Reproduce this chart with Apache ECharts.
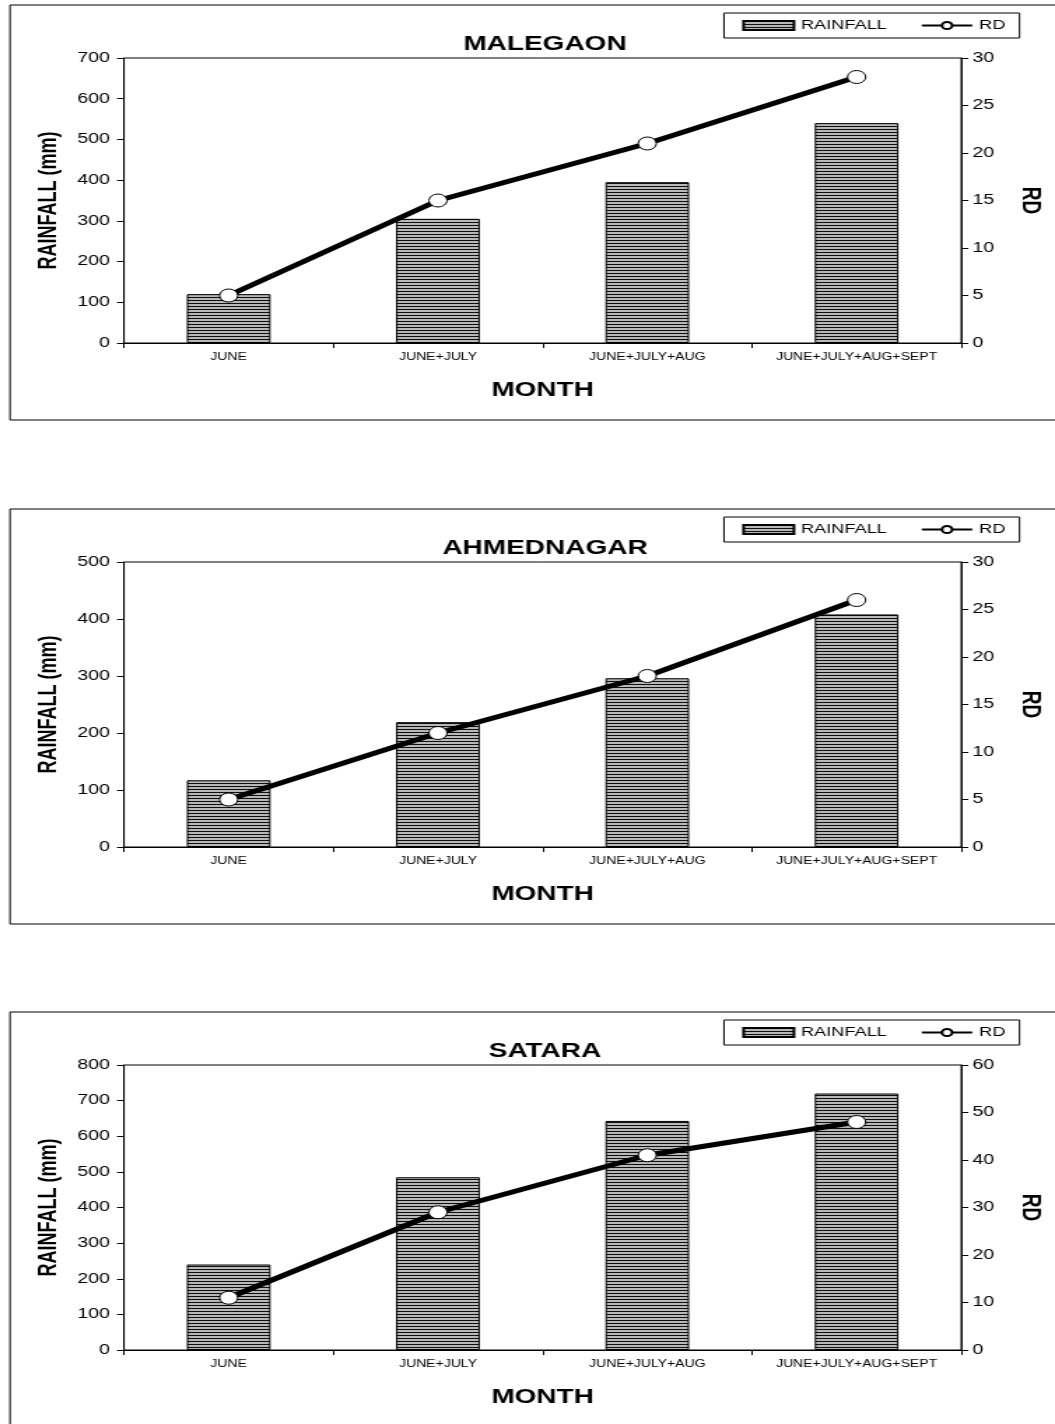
<!DOCTYPE html>
<html>
<head>
<meta charset="utf-8">
<title>Rainfall and RD</title>
<script src="https://cdn.jsdelivr.net/npm/echarts@6/dist/echarts.min.js"></script>
<style>
  html, body { margin: 0; padding: 0; background: #fff; overflow: hidden; }
  /* the chart is laid out on a narrower canvas and widened horizontally */
  #chart { width: 754px; height: 1424px; transform: scaleX(1.39920); transform-origin: 0 0; }
</style>
</head>
<body>
<div id="chart"></div>
<script>
// ---- data ----
const categories = ['JUNE', 'JUNE+JULY', 'JUNE+JULY+AUG', 'JUNE+JULY+AUG+SEPT'];

const malegaonRainfall   = [120, 305, 395, 540];
const malegaonRD         = [5, 15, 21, 28];

const ahmednagarRainfall = [117, 219, 296, 408];
const ahmednagarRD       = [5, 12, 18, 26];

const sataraRainfall     = [240, 485, 643, 720];
const sataraRD           = [11, 29, 41, 48];

const stations = [
  { name: 'MALEGAON',   rain: malegaonRainfall,   rd: malegaonRD,   rainMax: 700, rainStep: 100, rdMax: 30, rdStep: 5 },
  { name: 'AHMEDNAGAR', rain: ahmednagarRainfall, rd: ahmednagarRD, rainMax: 500, rainStep: 100, rdMax: 30, rdStep: 5 },
  { name: 'SATARA',     rain: sataraRainfall,     rd: sataraRD,     rainMax: 800, rainStep: 100, rdMax: 60, rdStep: 10 }
];

// ---- layout helpers ----
const SX = 1055 / 754;              // horizontal widening factor
const px = x => x / SX;             // page x -> canvas x
const panelOffsets = [0, 504, 1007];
const FONT = 'Liberation Sans, Arial, sans-serif';

// horizontal hatch fill for the rainfall bars
function hatch() {
  const c = document.createElement('canvas');
  c.width = 4; c.height = 3;
  const g = c.getContext('2d');
  g.fillStyle = '#b8b8b8'; g.fillRect(0, 0, 4, 3);
  g.fillStyle = '#101010'; g.fillRect(0, 0, 4, 1);
  return c;
}
const hatchFill = { image: hatch(), repeat: 'repeat' };

const option = {
  animation: false,
  textStyle: { fontFamily: FONT, color: '#000' },
  title: [], legend: [], grid: [], xAxis: [], yAxis: [], series: [], graphic: []
};

stations.forEach((st, i) => {
  const dy = panelOffsets[i];

  // panel frame
  option.graphic.push({
    type: 'rect', silent: true,
    shape: { x: px(10), y: 5 + dy, width: 800, height: 415 },
    style: { fill: 'none', stroke: '#000', lineWidth: 1 }
  });

  option.title.push({
    text: st.name,
    left: px(538), top: 29 + dy, textAlign: 'center',
    textStyle: { fontFamily: FONT, fontSize: 20, fontWeight: 'bold', color: '#000' }
  });

  option.legend.push({
    left: px(724), top: 13 + dy,
    itemWidth: 36, itemHeight: 9, itemGap: 24,
    padding: [6, 10, 6, 13],
    borderColor: '#000', borderWidth: 1, borderRadius: 0,
    selectedMode: false,
    textStyle: { fontFamily: FONT, fontSize: 13, color: '#000' },
    data: [{ name: 'RAINFALL', icon: 'rect' }, { name: 'RD' }]
  });

  option.grid.push({
    left: px(124), width: px(963) - px(124), top: 58 + dy, height: 285,
    show: true, borderColor: '#000', borderWidth: 1, backgroundColor: 'transparent'
  });

  option.xAxis.push({
    type: 'category', gridIndex: i, data: categories,
    axisLine: { lineStyle: { color: '#000', width: 1 } },
    axisTick: { show: true, length: 5, lineStyle: { color: '#000' } },
    axisLabel: { fontFamily: FONT, fontSize: 10, color: '#000', margin: 9, interval: 0 },
    name: 'MONTH', nameLocation: 'middle', nameGap: 37,
    nameTextStyle: { fontFamily: FONT, fontSize: 20, fontWeight: 'bold', color: '#000' }
  });

  option.yAxis.push({
    type: 'value', gridIndex: i, position: 'left',
    min: 0, max: st.rainMax, interval: st.rainStep,
    axisLine: { show: true, lineStyle: { color: '#000' } },
    axisTick: { show: true, length: 5, lineStyle: { color: '#000' } },
    splitLine: { show: false },
    axisLabel: { fontFamily: FONT, fontSize: 14, color: '#000', margin: 10 },
    name: 'RAINFALL (mm)', nameLocation: 'middle', nameRotate: 90, nameGap: 30,
    nameTextStyle: { fontFamily: FONT, fontSize: 18, fontWeight: 'bold', color: '#000' }
  });

  option.yAxis.push({
    type: 'value', gridIndex: i, position: 'right',
    min: 0, max: st.rdMax, interval: st.rdStep,
    axisLine: { show: true, lineStyle: { color: '#000' } },
    axisTick: { show: true, length: 5, lineStyle: { color: '#000' } },
    splitLine: { show: false },
    axisLabel: { fontFamily: FONT, fontSize: 14, color: '#000', margin: 8 },
    name: 'RD', nameLocation: 'middle', nameRotate: -90, nameGap: 40,
    nameTextStyle: { fontFamily: FONT, fontSize: 19, fontWeight: 'bold', color: '#000' }
  });

  option.series.push({
    name: 'RAINFALL', type: 'bar',
    xAxisIndex: i, yAxisIndex: 2 * i,
    barWidth: '40%',
    itemStyle: { color: hatchFill, borderColor: '#000', borderWidth: 1 },
    data: st.rain
  });

  option.series.push({
    name: 'RD', type: 'line',
    xAxisIndex: i, yAxisIndex: 2 * i + 1,
    symbol: 'circle', symbolSize: 13,
    lineStyle: { color: '#000', width: 5 },
    itemStyle: { color: '#fff', borderColor: '#000', borderWidth: 1 },
    data: st.rd
  });
});

const chart = echarts.init(document.getElementById('chart'), null, { renderer: 'canvas' });
chart.setOption(option);
</script>
</body>
</html>
